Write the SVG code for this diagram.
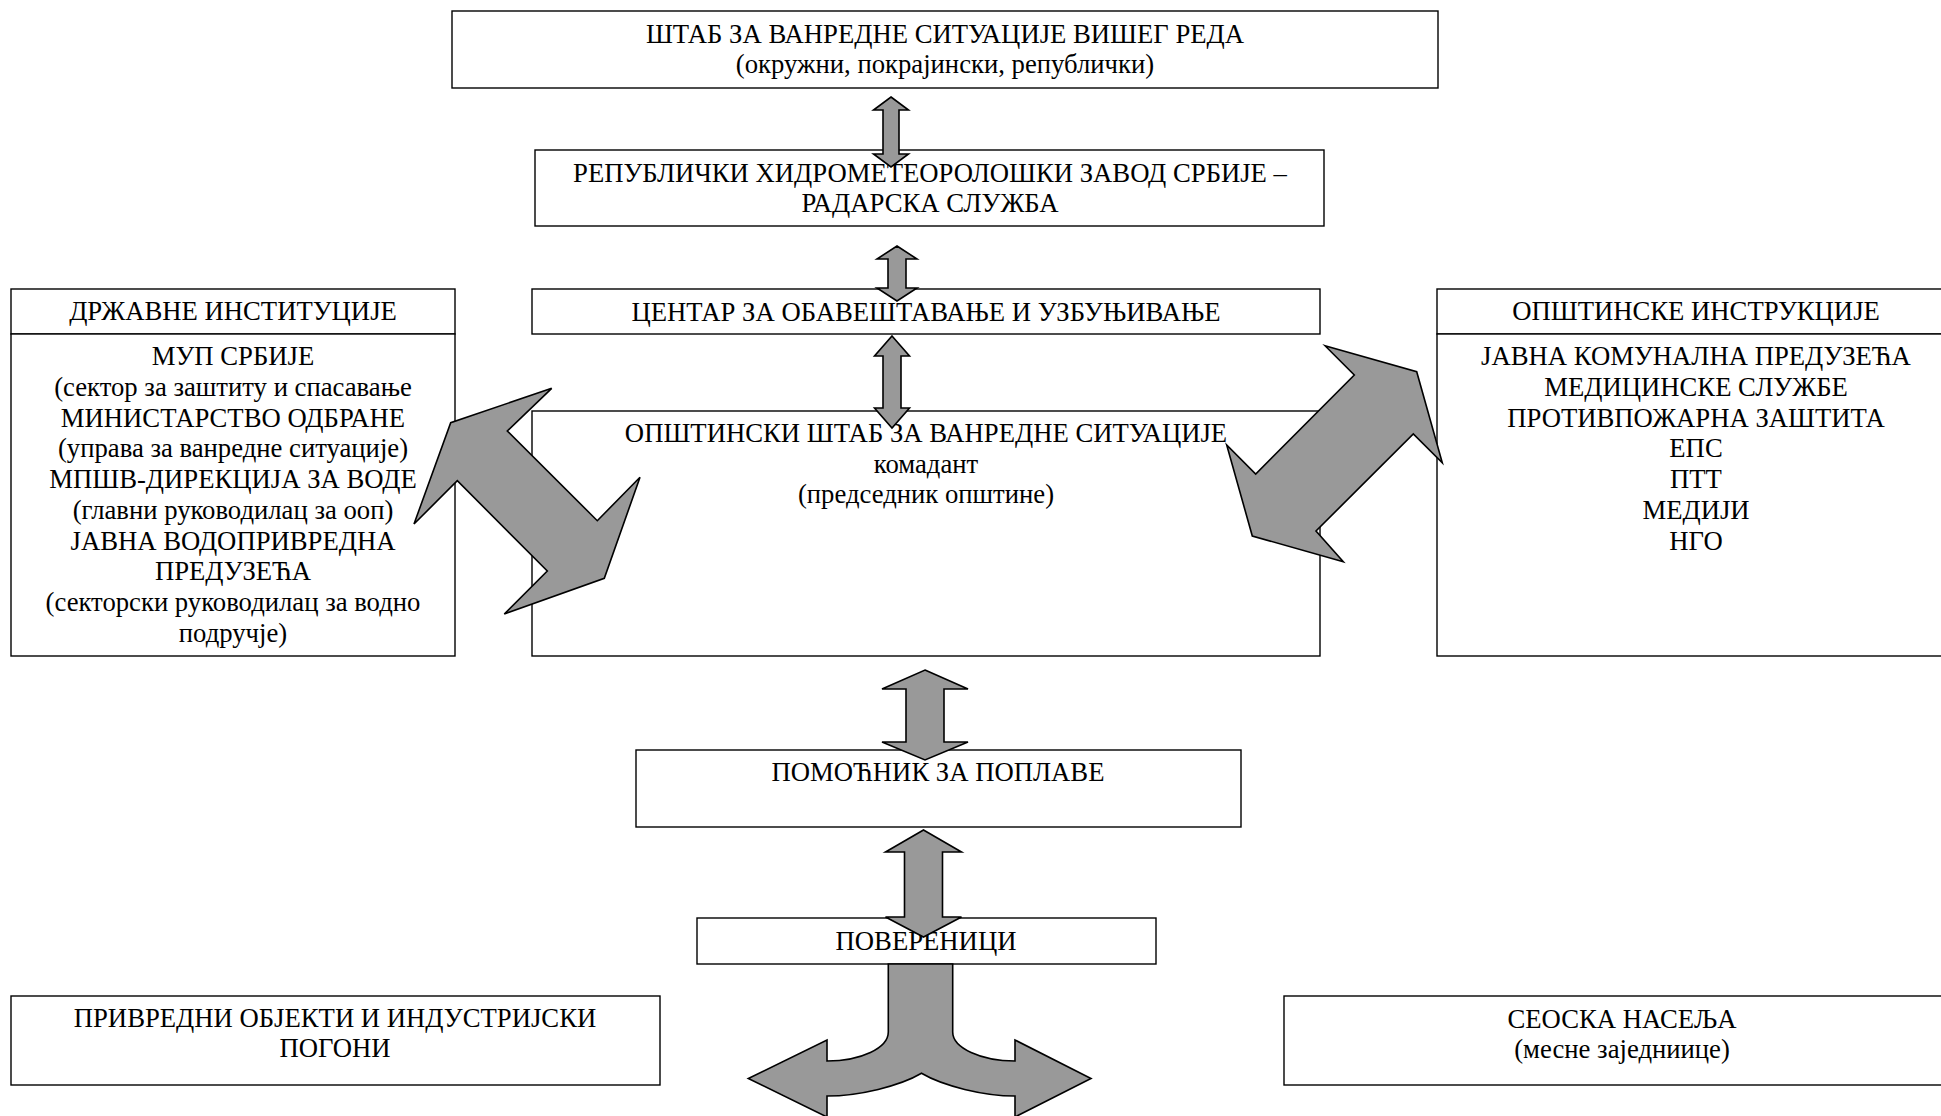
<svg xmlns="http://www.w3.org/2000/svg" width="1941" height="1116" viewBox="0 0 1941 1116">
<style>
.box{fill:#ffffff;stroke:#000000;stroke-width:1.4}
.arr{fill:#999999;stroke:#000000;stroke-width:1.6;stroke-linejoin:miter}
text{font-family:"Liberation Serif","Times New Roman",serif;font-size:26.7px;fill:#000000;text-anchor:middle}
</style>
<rect width="1941" height="1116" fill="#ffffff"/>
<g id="node-stab-viseg-reda">
<rect class="box" x="452" y="11" width="986" height="77"/>
<text x="945" y="43">ШТАБ ЗА ВАНРЕДНЕ СИТУАЦИЈЕ ВИШЕГ РЕДА</text>
<text x="945" y="73">(окружни, покрајински, републички)</text>
</g>
<g id="node-rhmz">
<rect class="box" x="535" y="150" width="789" height="76"/>
<text x="930" y="182">РЕПУБЛИЧКИ ХИДРОМЕТЕОРОЛОШКИ ЗАВОД СРБИЈЕ –</text>
<text x="930" y="212">РАДАРСКА СЛУЖБА</text>
</g>
<g id="node-centar">
<rect class="box" x="532" y="289" width="788" height="45"/>
<text x="926" y="321">ЦЕНТАР ЗА ОБАВЕШТАВАЊЕ И УЗБУЊИВАЊЕ</text>
</g>
<g id="node-drzavne">
<rect class="box" x="11" y="289" width="444" height="45"/>
<rect class="box" x="11" y="334" width="444" height="322"/>
<text x="233" y="320">ДРЖАВНЕ ИНСТИТУЦИЈЕ</text>
<text x="233" y="365">МУП СРБИЈЕ</text>
<text x="233" y="396">(сектор за заштиту и спасавање</text>
<text x="233" y="427">МИНИСТАРСТВО ОДБРАНЕ</text>
<text x="233" y="457">(управа за ванредне ситуације)</text>
<text x="233" y="488">МПШВ-ДИРЕКЦИЈА ЗА ВОДЕ</text>
<text x="233" y="519">(главни руководилац за ооп)</text>
<text x="233" y="550">ЈАВНА ВОДОПРИВРЕДНА</text>
<text x="233" y="580">ПРЕДУЗЕЋА</text>
<text x="233" y="611">(секторски руководилац за водно</text>
<text x="233" y="642">подручје)</text>
</g>
<g id="node-opstinski-stab">
<rect class="box" x="532" y="411" width="788" height="245"/>
<text x="926" y="442">ОПШТИНСКИ ШТАБ ЗА ВАНРЕДНЕ СИТУАЦИЈЕ</text>
<text x="926" y="473">комадант</text>
<text x="926" y="503">(председник општине)</text>
</g>
<g id="node-opstinske">
<rect class="box" x="1437" y="289" width="530" height="45"/>
<rect class="box" x="1437" y="334" width="530" height="322"/>
<text x="1696" y="320">ОПШТИНСКЕ ИНСТРУКЦИЈЕ</text>
<text x="1696" y="365">ЈАВНА КОМУНАЛНА ПРЕДУЗЕЋА</text>
<text x="1696" y="396">МЕДИЦИНСКЕ СЛУЖБЕ</text>
<text x="1696" y="427">ПРОТИВПОЖАРНА ЗАШТИТА</text>
<text x="1696" y="457">ЕПС</text>
<text x="1696" y="488">ПТТ</text>
<text x="1696" y="519">МЕДИЈИ</text>
<text x="1696" y="550">НГО</text>
</g>
<g id="node-pomocnik">
<rect class="box" x="636" y="750" width="605" height="77"/>
<text x="938" y="781">ПОМОЋНИК ЗА ПОПЛАВЕ</text>
</g>
<g id="node-poverenici">
<rect class="box" x="697" y="918" width="459" height="46"/>
<text x="926" y="950">ПОВЕРЕНИЦИ</text>
</g>
<g id="node-privredni">
<rect class="box" x="11" y="996" width="649" height="89"/>
<text x="335" y="1027">ПРИВРЕДНИ ОБЈЕКТИ И ИНДУСТРИЈСКИ</text>
<text x="335" y="1057">ПОГОНИ</text>
</g>
<g id="node-seoska">
<rect class="box" x="1284" y="996" width="700" height="89"/>
<text x="1622" y="1028">СЕОСКА НАСЕЉА</text>
<text x="1622" y="1058">(месне заједниице)</text>
</g>
<g id="connectors">
<polygon class="arr" points="891,97 908.5,110 899,110 899,154 908.5,154 891,167 873.5,154 883,154 883,110 873.5,110"/>
<polygon class="arr" points="897,246 917,259 906,259 906,288 917,288 897,301 877,288 888,288 888,259 877,259"/>
<polygon class="arr" points="892,336 909.5,356 901,356 901,408 909.5,408 892,428 874.5,408 883,408 883,356 874.5,356"/>
<polygon class="arr" points="925,670 968,689 944,689 944,742 968,742 925,760 882,742 906,742 906,689 882,689"/>
<polygon class="arr" points="923.5,830 961.5,852 942.5,852 942.5,917 961.5,917 923.5,937 885.5,917 904.5,917 904.5,852 885.5,852"/>
<polygon class="arr" points="551.7,388.3 507.3,431 597.3,520.7 640,477.3 604.3,578.3 504.3,614 547.3,571 457.3,480.7 414,524 450.7,422.7"/>
<polygon class="arr" points="1325,345.7 1416.7,371.7 1442.3,462.7 1413.3,434 1316,531 1343.3,561.7 1252.3,536 1226.7,445 1255.7,474 1354.3,375"/>
<path class="arr" d="M888.3,964 L952.7,964 L952.7,1032 C952.7,1048 981,1061 1015,1061 L1015,1040 L1091,1078.5 L1015,1117 L1015,1096 C984,1096 943,1086 921.5,1073.3 C900,1086 859,1096 827,1096 L827,1117 L748.3,1078.5 L827,1040 L827,1061 C861,1061 888.3,1048 888.3,1032 Z"/>
</g>
</svg>
